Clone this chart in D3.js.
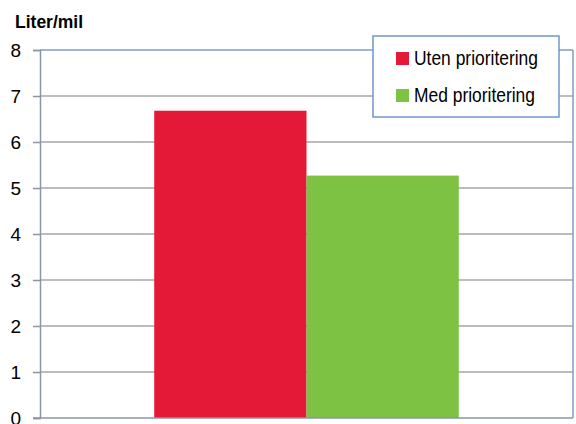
<!DOCTYPE html>
<html>
<head>
<meta charset="utf-8">
<script src="https://cdn.jsdelivr.net/npm/d3@7"></script>
<style>
  body { margin: 0; background: #fff; }
  text { font-family: "Liberation Sans Narrow", "Liberation Sans", Arial, sans-serif; }
</style>
</head>
<body>
<svg id="chart" width="576" height="424"></svg>
<script>
// Fuel use per mile, with and without prioritising
const seriesNames = ["Uten prioritering", "Med prioritering"];
const seriesValues = [6.68, 5.27];
const seriesColors = ["#e31937", "#7dc242"];
const yTicks = [0, 1, 2, 3, 4, 5, 6, 7, 8];
const yTitle = "Liter/mil";

const svg = d3.select("#chart");
const plotLeft = 40, plotRight = 573, plotTop = 50, plotBottom = 418;

const y = d3.scaleLinear().domain([0, 8]).range([plotBottom, plotTop]);
const x0 = d3.scaleBand().domain(["all"]).range([plotLeft, plotRight]).paddingInner(0).paddingOuter(0);
// two bars plus a 150% gap share the category width
const groupWidth = x0.bandwidth() * 2 / 3.5;
const x1 = d3.scaleBand().domain(seriesNames)
  .range([x0("all") + (x0.bandwidth() - groupWidth) / 2, x0("all") + (x0.bandwidth() + groupWidth) / 2]);

// gridlines
svg.append("g").selectAll("line").data(yTicks.filter(d => d > 0)).join("line")
  .attr("x1", plotLeft).attr("x2", plotRight)
  .attr("y1", d => y(d)).attr("y2", d => y(d))
  .attr("stroke", d => d === 8 ? "#7f9cc4" : "#a6a6a6")
  .attr("stroke-width", 1.5);

// right border of plot area
svg.append("line").attr("x1", plotRight).attr("x2", plotRight).attr("y1", plotTop).attr("y2", plotBottom)
  .attr("stroke", "#7f9cc4").attr("stroke-width", 1.5);

// bars
svg.append("g").selectAll("rect").data(seriesValues).join("rect")
  .attr("x", (d, i) => x1(seriesNames[i]))
  .attr("width", x1.bandwidth())
  .attr("y", d => y(d))
  .attr("height", d => plotBottom - y(d))
  .attr("fill", (d, i) => seriesColors[i]);

// y axis
const yAxis = d3.axisLeft(y).tickValues(yTicks).tickSize(7).tickPadding(12).tickFormat(d3.format("d"));
const ya = svg.append("g").attr("transform", `translate(${plotLeft},0)`).call(yAxis);
ya.select(".domain").attr("stroke", "#8a96a6").attr("stroke-width", 1.5);
ya.selectAll(".tick line").attr("stroke", "#8a96a6").attr("stroke-width", 1.5);
ya.selectAll(".tick text").attr("font-size", 19).attr("fill", "#000")
  .attr("font-family", "'Liberation Sans Narrow', 'Liberation Sans', Arial, sans-serif");

// x axis baseline
svg.append("line").attr("x1", plotLeft - 7).attr("x2", plotRight).attr("y1", plotBottom).attr("y2", plotBottom)
  .attr("stroke", "#8a96a6").attr("stroke-width", 1.5);

// axis title
svg.append("text").attr("x", 15).attr("y", 28).attr("font-size", 17.5).attr("font-weight", "bold")
  .attr("font-family", "'Liberation Sans', Arial, sans-serif")
  .text(yTitle);

// legend
const lg = svg.append("g");
lg.append("rect").attr("x", 373).attr("y", 36).attr("width", 186).attr("height", 81)
  .attr("fill", "#fff").attr("stroke", "#6f98cc").attr("stroke-width", 1.5);
const items = lg.selectAll("g.item").data(seriesNames).join("g").attr("class", "item")
  .attr("transform", (d, i) => `translate(396, ${52 + i * 37})`);
items.append("rect").attr("width", 13).attr("height", 13).attr("fill", (d, i) => seriesColors[i]);
items.append("text").attr("x", 18).attr("y", 13).attr("font-size", 20)
  .attr("textLength", (d, i) => i === 0 ? 124 : 121).attr("lengthAdjust", "spacingAndGlyphs")
  .text(d => d);
</script>
</body>
</html>
